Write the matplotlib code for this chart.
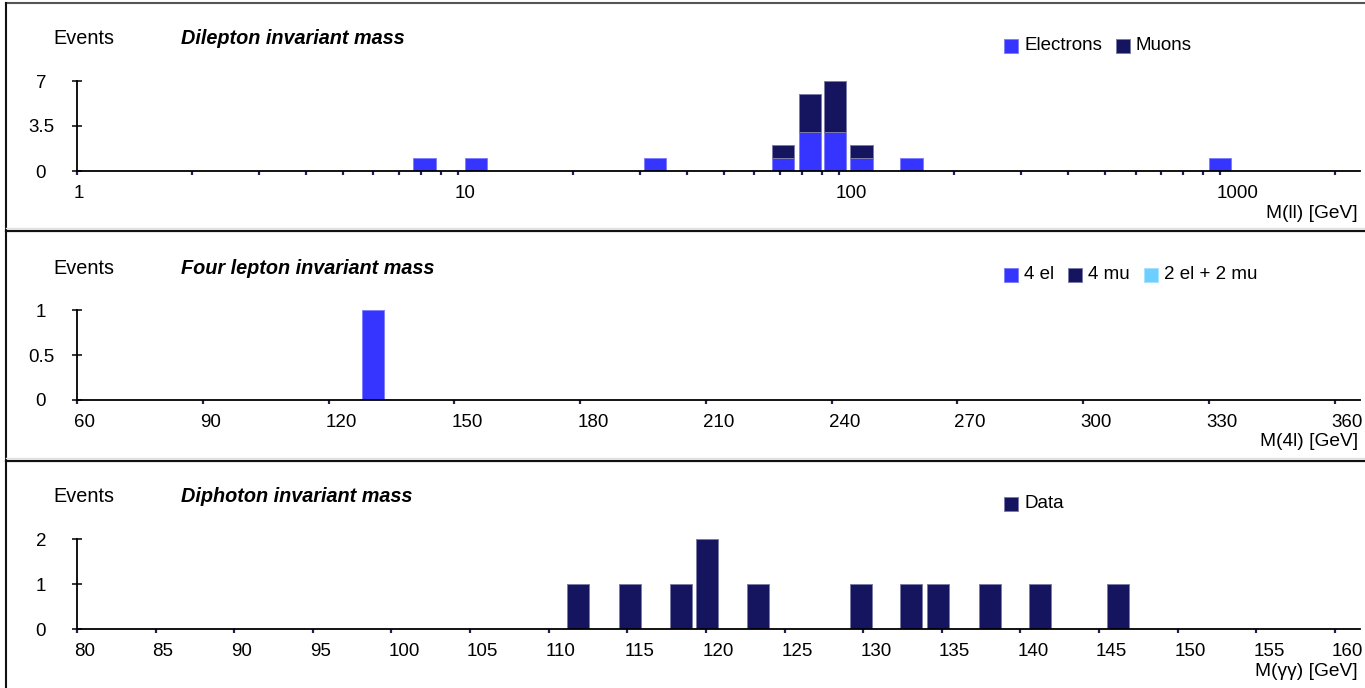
import numpy as np
import matplotlib
matplotlib.use("Agg")
import matplotlib.pyplot as plt
from matplotlib.patches import Rectangle
from matplotlib.lines import Line2D
from matplotlib.ticker import NullFormatter
from matplotlib.transforms import ScaledTranslation

plt.rcParams["font.family"] = ["Liberation Sans", "DejaVu Sans"]

W, H = 1365, 688

# Dilepton events: bin centres [GeV] and stacked counts
dilep_mass = [8.17, 11.15, 32.9, 71.4, 83.9, 97.5, 114.4, 155.0, 1000.0]
dilep_electrons = [1, 1, 1, 1, 3, 3, 1, 1, 1]
dilep_muons = [0, 0, 0, 1, 3, 4, 1, 0, 0]

# Four lepton events
fourl_mass = [130.5]
fourl_4el = [1]
fourl_4mu = [0]
fourl_2el2mu = [0]

# Diphoton events
diphoton_mass = [111.87, 115.16, 118.43, 120.04, 123.32, 129.88,
                 133.07, 134.76, 138.04, 141.23, 146.19]
diphoton_counts = [1, 1, 1, 2, 1, 1, 1, 1, 1, 1, 1]

C_EL, E_EL = "#3535ff", "#8080ff"
C_MU, E_MU = "#15155f", "#7c7ca8"
C_MIX, E_MIX = "#6ccfff", "#a8e2ff"
TICK_C = "#20204f"
FS = 13.5
BAR_FRAC = 0.875

fig = plt.figure(figsize=(W / 100, H / 100), dpi=100)
shift_left = ScaledTranslation(-3 / 100, 0, fig.dpi_scale_trans)


def add_panel(y_axis, y_top):
    # axes placed in pixel units: spine from x=77 to 1360
    ax = fig.add_axes([77 / W, 1 - y_axis / H, (1360 - 77) / W, (y_axis - y_top) / H])
    ax.spines["top"].set_visible(False)
    ax.spines["right"].set_visible(False)
    ax.spines["left"].set_linewidth(1.3)
    ax.spines["bottom"].set_linewidth(1.3)
    ax.patch.set_visible(False)
    return ax


def finish_axes(ax, yticks, ylabels):
    ax.set_ylim(0, yticks[-1])
    ax.set_yticks(yticks, ylabels)
    ax.tick_params(axis="y", direction="inout", length=6.5, width=1.1,
                   pad=22.7, labelsize=FS)
    plt.setp(ax.get_yticklabels(), ha="center")
    ax.tick_params(axis="x", which="both", direction="out", length=3,
                   width=1.6, color=TICK_C, pad=7, labelsize=FS)
    for lab in ax.get_xticklabels():
        lab.set_ha("left")
        lab.set_transform(lab.get_transform() + shift_left)


def panel_text(offset, title, xlabel):
    fig.text(53 / W, 1 - (39 + offset) / H, "Events", fontsize=14.3, va="center")
    fig.text(181 / W, 1 - (39 + offset) / H, title, fontsize=14.3,
             fontweight="bold", fontstyle="italic", va="center")
    fig.text(1358 / W, 1 - (213 + offset) / H, xlabel, fontsize=13.8,
             ha="right", va="center")


renderer = fig.canvas.get_renderer()


def legend(offset, items):
    x = 1004
    yc = 46 + offset
    for label, face, edge in items:
        fig.add_artist(Rectangle((x / W, 1 - (yc + 7) / H), 14 / W, 14 / H,
                                 transform=fig.transFigure, facecolor=face,
                                 edgecolor=edge, lw=0.7))
        t = fig.text((x + 20) / W, 1 - yc / H, label, fontsize=13.5, va="center")
        x = t.get_window_extent(renderer).x1 + 14


# --- Dilepton invariant mass (log x) ---
ax1 = add_panel(171, 81)
ax1.set_xscale("log")
half = BAR_FRAC * 0.0673 / 2
m = np.array(dilep_mass)
lo, hi = m * 10 ** -half, m * 10 ** half
el = np.array(dilep_electrons)
mu = np.array(dilep_muons)
ax1.bar(lo, el, width=hi - lo, align="edge", color=C_EL, edgecolor=E_EL, lw=0.7)
keep = mu > 0
ax1.bar(lo[keep], mu[keep], width=(hi - lo)[keep], bottom=el[keep], align="edge",
        color=C_MU, edgecolor=E_MU, lw=0.7)
ax1.set_xlim(1, 2330)
ax1.set_xticks([1, 10, 100, 1000], ["1", "10", "100", "1000"])
minor = [k * 10 ** d for d in range(4) for k in range(2, 10) if k * 10 ** d <= 2000]
ax1.set_xticks(minor, minor=True)
ax1.xaxis.set_minor_formatter(NullFormatter())
finish_axes(ax1, [0, 3.5, 7], ["0", "3.5", "7"])
panel_text(0, "Dilepton invariant mass", "M(ll) [GeV]")
legend(0, [("Electrons", C_EL, E_EL), ("Muons", C_MU, E_MU)])

# --- Four lepton invariant mass ---
ax2 = add_panel(400, 310.3)
w4 = BAR_FRAC * 6
bottom = np.zeros(len(fourl_mass))
for vals, face, edge in [(fourl_4el, C_EL, E_EL), (fourl_4mu, C_MU, E_MU),
                         (fourl_2el2mu, C_MIX, E_MIX)]:
    v = np.array(vals)
    keep = v > 0
    ax2.bar(np.array(fourl_mass)[keep], v[keep], width=w4, bottom=bottom[keep],
            color=face, edgecolor=edge, lw=0.7)
    bottom = bottom + v
ax2.set_xlim(60, 366)
ax2.set_xticks(range(60, 361, 30))
finish_axes(ax2, [0, 0.5, 1], ["0", "0.5", "1"])
panel_text(229, "Four lepton invariant mass", "M(4l) [GeV]")
legend(229, [("4 el", C_EL, E_EL), ("4 mu", C_MU, E_MU), ("2 el + 2 mu", C_MIX, E_MIX)])

# --- Diphoton invariant mass ---
ax3 = add_panel(629, 539.3)
ax3.bar(diphoton_mass, diphoton_counts, width=BAR_FRAC * 1.6,
        color=C_MU, edgecolor=E_MU, lw=0.7)
ax3.set_xlim(80, 161.6)
ax3.set_xticks(range(80, 161, 5))
finish_axes(ax3, [0, 1, 2], ["0", "1", "2"])
panel_text(458, "Diphoton invariant mass", "M(γγ) [GeV]")
legend(458, [("Data", C_MU, E_MU)])

# panel frames
fig.add_artist(Line2D([6 / W, 1], [1 - 3 / H, 1 - 3 / H], color="#555555", lw=1.5))
fig.add_artist(Line2D([6 / W, 6 / W], [0, 1 - 3 / H], color="#111111", lw=1.5))
for y in (229, 459):
    fig.add_artist(Line2D([6 / W, 1], [1 - (y - 1) / H] * 2, color="#e2e2e2", lw=1))
    fig.add_artist(Line2D([6 / W, 1], [1 - (y + 2) / H] * 2, color="#111111", lw=1.6))

fig.savefig("out.png", dpi=100)
